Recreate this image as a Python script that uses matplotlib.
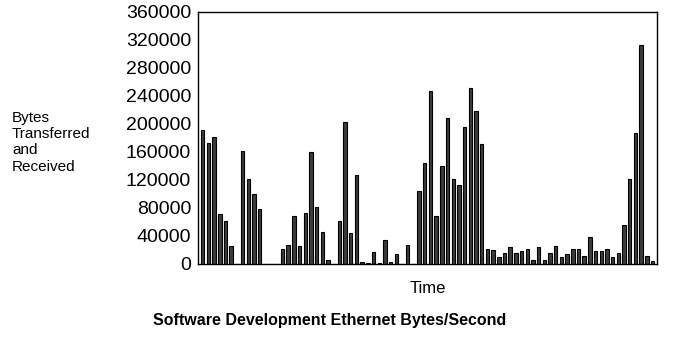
import matplotlib.pyplot as plt

plt.rcParams['font.family'] = ['Liberation Sans', 'DejaVu Sans']

# bytes per second, one bar per sample
bytes_sec = [192000, 173000, 181000, 71000, 61000, 25000, 0, 161000, 121000, 100000,
             79000, 0, 0, 0, 22000, 27000, 68000, 25000, 73000, 160000,
             81000, 45000, 5000, 0, 61000, 203000, 44000, 127000, 3000, 2000,
             17000, 1000, 34000, 3000, 14000, 0, 27000, 0, 104000, 144000,
             247000, 69000, 140000, 208000, 122000, 113000, 196000, 251000, 219000, 172000,
             21000, 20000, 10000, 16000, 24000, 15000, 18000, 22000, 5000, 24000,
             5000, 15000, 26000, 10000, 14000, 22000, 21000, 11000, 39000, 19000,
             18000, 21000, 10000, 16000, 55000, 122000, 187000, 313000, 11000, 4000]
yticks = list(range(0, 360001, 40000))

fig = plt.figure(figsize=(6.76, 3.58), dpi=100)
ax = fig.add_axes([0.293, 0.2626, 0.679, 0.704])

x = list(range(len(bytes_sec)))
ax.bar(x, bytes_sec, width=0.6, color='#3c3c3c', edgecolor='black', linewidth=0.8)

ax.set_xlim(-0.82, len(bytes_sec) - 0.2)
ax.set_ylim(0, 360000)
ax.set_yticks(yticks)
ax.set_yticklabels([str(v) for v in yticks], fontsize=14)
ax.tick_params(axis='y', length=0, pad=5)
ax.set_xticks([])
for s in ax.spines.values():
    s.set_linewidth(1.0)

ax.set_xlabel('Time', fontsize=12, labelpad=12)
fig.text(12 / 676, 1 - 111 / 358, 'Bytes\nTransferred\nand\nReceived',
         fontsize=11, ha='left', va='top', linespacing=1.2)
fig.text(330 / 676, 1 - 320 / 358, 'Software Development Ethernet Bytes/Second',
         fontsize=11.5, fontweight='bold', ha='center', va='center')

fig.savefig('out.png', dpi=100)
